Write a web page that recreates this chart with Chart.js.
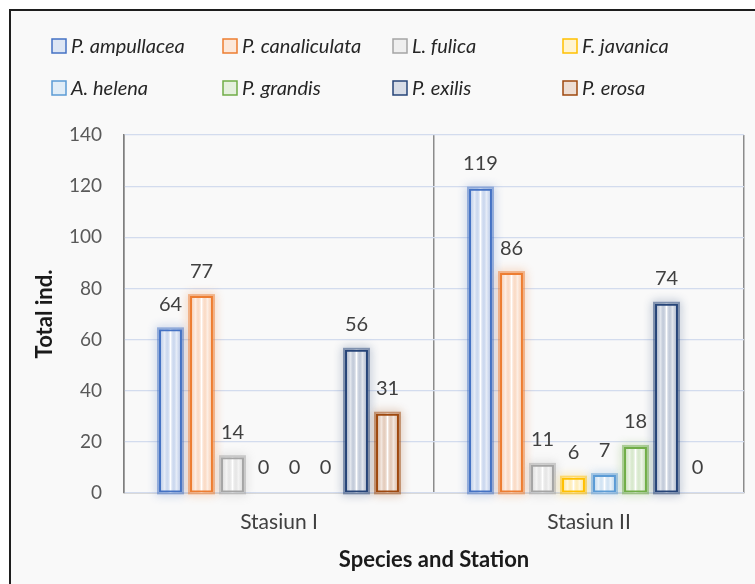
<!DOCTYPE html>
<html>
<head>
<meta charset="utf-8">
<script src="https://cdn.jsdelivr.net/npm/chart.js@4.4.1/dist/chart.umd.min.js"></script>
<style>
  html, body { margin: 0; padding: 0; background: #ffffff; overflow: hidden; }
  #frame {
    position: absolute; left: 9px; top: 9px; width: 800px; height: 620px;
    border-left: 2px solid #1e1e1e; border-top: 2px solid #1e1e1e;
    background: #f9f9f9;
  }
  #wrap { position: absolute; left: 0; top: 0; width: 755px; height: 584px; }
</style>
</head>
<body>
<div id="frame"></div>
<div id="wrap"><canvas id="c" width="755" height="584"></canvas></div>
<script>
// Stations on the x axis
const stations = ['Stasiun I', 'Stasiun II'];

// Snail species and their colours
const species = ['P. ampullacea', 'P. canaliculata', 'L. fulica', 'F. javanica',
                 'A. helena', 'P. grandis', 'P. exilis', 'P. erosa'];
const speciesColors = ['#4472C4', '#ED7D31', '#A5A5A5', '#FFC000',
                       '#5B9BD5', '#70AD47', '#264478', '#9E480E'];

// Individuals counted per species at each station
const pAmpullacea   = [64, 119];
const pCanaliculata = [77, 86];
const lFulica       = [14, 11];
const fJavanica     = [0, 6];
const aHelena       = [0, 7];
const pGrandis      = [0, 18];
const pExilis       = [56, 74];
const pErosa        = [31, 0];
const counts = [pAmpullacea, pCanaliculata, lFulica, fJavanica, aHelena, pGrandis, pExilis, pErosa];

// Y axis range
const yMin = 0, yMax = 140, yStep = 20;

const FONT = 'Lato, "Open Sans", sans-serif';

function rgba(hex, a) {
  const n = parseInt(hex.slice(1), 16);
  return `rgba(${(n >> 16) & 255},${(n >> 8) & 255},${n & 255},${a})`;
}

// Soft glow and tinted fill behind each bar
const glowPlugin = {
  id: 'barGlow',
  beforeDatasetsDraw(chart) {
    const ctx = chart.ctx;
    chart.data.datasets.forEach((ds, di) => {
      const meta = chart.getDatasetMeta(di);
      const col = speciesColors[di];
      meta.data.forEach((el, i) => {
        if (!ds.data[i]) return;
        const p = el.getProps(['x', 'y', 'base', 'width'], true);
        const left = p.x - p.width / 2, top = Math.min(p.y, p.base);
        const w = p.width, h = Math.abs(p.base - p.y);
        ctx.save();
        ctx.shadowColor = rgba(col, 0.9);
        ctx.shadowBlur = 10;
        ctx.strokeStyle = rgba(col, 0.5);
        ctx.lineWidth = 4;
        ctx.strokeRect(left, top, w, h);
        ctx.restore();
        ctx.save();
        const g = ctx.createLinearGradient(left, 0, left + w, 0);
        g.addColorStop(0, rgba(col, 0.45));
        g.addColorStop(0.25, rgba(col, 0.12));
        g.addColorStop(0.5, 'rgba(255,255,255,0.95)');
        g.addColorStop(0.75, rgba(col, 0.12));
        g.addColorStop(1, rgba(col, 0.45));
        ctx.fillStyle = '#ffffff';
        ctx.fillRect(left, top, w, h);
        ctx.fillStyle = g;
        ctx.fillRect(left, top, w, h);
        ctx.restore();
      });
    });
  }
};

// Value labels above the bars
const valuePlugin = {
  id: 'valueLabels',
  afterDatasetsDraw(chart) {
    const ctx = chart.ctx;
    ctx.save();
    ctx.font = '20px ' + FONT;
    ctx.fillStyle = '#404040';
    ctx.textAlign = 'center';
    ctx.textBaseline = 'middle';
    chart.data.datasets.forEach((ds, di) => {
      const meta = chart.getDatasetMeta(di);
      meta.data.forEach((el, i) => {
        const p = el.getProps(['x', 'y'], true);
        ctx.fillText(String(ds.data[i]), p.x, p.y - 25);
      });
    });
    ctx.restore();
  }
};

// Legend laid out in a 4-column grid
const legendPlugin = {
  id: 'gridLegend',
  afterDraw(chart) {
    const ctx = chart.ctx;
    const colX = [52, 223, 393, 563], rowY = [46, 88], box = 14;
    ctx.save();
    ctx.font = 'italic 20px ' + FONT;
    ctx.textBaseline = 'middle';
    ctx.textAlign = 'left';
    chart.data.datasets.forEach((ds, di) => {
      const x = colX[di % 4], y = rowY[Math.floor(di / 4)];
      const col = speciesColors[di];
      ctx.fillStyle = '#ffffff';
      ctx.fillRect(x, y - box / 2, box, box);
      ctx.fillStyle = rgba(col, 0.18);
      ctx.fillRect(x, y - box / 2, box, box);
      ctx.strokeStyle = col;
      ctx.lineWidth = 1.5;
      ctx.strokeRect(x, y - box / 2, box, box);
      ctx.fillStyle = '#262626';
      ctx.fillText(ds.label, x + box + 5, y + 1);
    });
    ctx.restore();
  }
};

const datasets = species.map((name, i) => ({
  label: name,
  data: counts[i],
  backgroundColor: 'rgba(0,0,0,0)',
  borderColor: speciesColors[i],
  borderWidth: 2,
  borderSkipped: false,
  categoryPercentage: 0.8,
  barPercentage: 0.74
}));

new Chart(document.getElementById('c'), {
  type: 'bar',
  data: { labels: stations, datasets },
  plugins: [glowPlugin, valuePlugin, legendPlugin],
  options: {
    responsive: false,
    animation: false,
    layout: { padding: { top: 135, right: 11, left: 0, bottom: 0 } },
    plugins: { legend: { display: false }, tooltip: { enabled: false } },
    scales: {
      x: {
        grid: { display: true, offset: true, color: '#8c8c8c', lineWidth: 1.5, drawTicks: false },
        border: { display: true, color: '#d9d9d9', width: 1 },
        ticks: { color: '#404040', font: { family: FONT, size: 21 }, padding: 17 },
        title: { display: true, text: 'Species and Station', color: '#1a1a1a',
                 font: { family: FONT, size: 22, weight: 'bold' }, padding: { top: 0, bottom: 11 } },
        afterFit(scale) { scale.height = 91; }
      },
      y: {
        min: yMin, max: yMax,
        grid: { color: '#d3dcee', lineWidth: 1.2, drawTicks: false },
        border: { display: true, color: '#7f7f7f', width: 1.5 },
        ticks: { stepSize: yStep, color: '#595959', font: { family: FONT, size: 19 }, padding: 22 },
        title: { display: true, text: 'Total ind.', color: '#1a1a1a',
                 font: { family: FONT, size: 22, weight: 'bold' }, padding: { top: 32, bottom: 0 } },
        afterFit(scale) { scale.width = 124; }
      }
    }
  }
});
</script>
</body>
</html>
